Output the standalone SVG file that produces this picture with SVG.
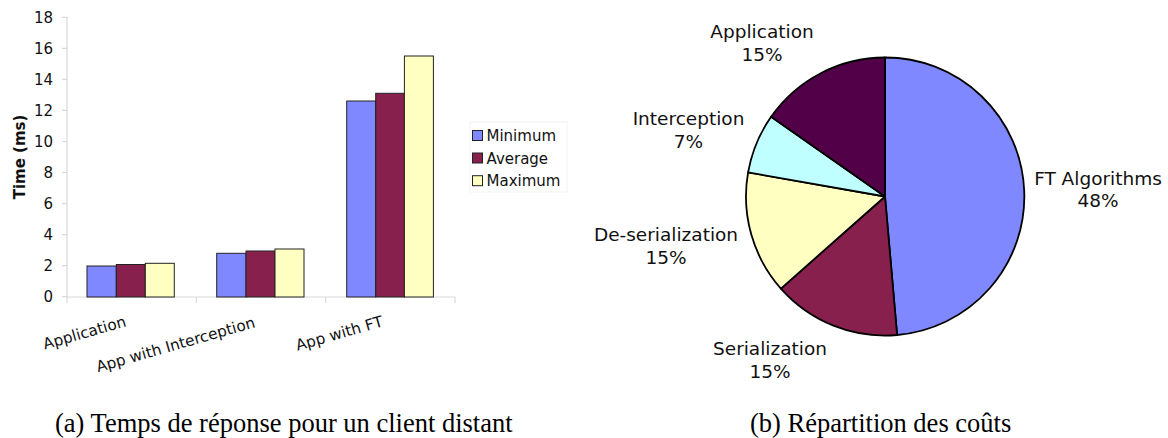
<svg xmlns="http://www.w3.org/2000/svg" width="1168" height="438" viewBox="0 0 1168 438">
<style>
.t{font-family:"DejaVu Sans",Verdana,sans-serif;fill:#111}
.tick{font-size:15px;text-anchor:end}
.xl{font-size:15.3px;text-anchor:end}
.lg{font-size:15px}
.pl{font-size:18.5px;text-anchor:middle}
.cap{font-family:"Liberation Serif","Times New Roman",serif;font-size:26.5px;fill:#000}
.ax{stroke:#d9d9d9;stroke-width:1.2;fill:none}
.bar{stroke:#222;stroke-width:1}
.mn{fill:#8088ff}
.av{fill:#88204e}
.mx{fill:#ffffc2}
.sl{stroke:#000;stroke-width:1.8;stroke-linejoin:round}
</style>
<rect width="1168" height="438" fill="#fff"/>
<g id="bar-chart">
<g id="axes">
<path class="ax" d="M67 17V297H455M62 17.3H67M62 48.3H67M62 79.4H67M62 110.4H67M62 141.5H67M62 172.5H67M62 203.6H67M62 234.6H67M62 265.7H67M62 296.7H67M67 297V303M196.3 297V303M325.7 297V303M455 297V303"/>
<text class="t" font-size="15" font-weight="bold" text-anchor="middle" transform="translate(25 157) rotate(-90)">Time (ms)</text>
<text class="t tick" x="53" y="23">18</text>
<text class="t tick" x="53" y="54">16</text>
<text class="t tick" x="53" y="85">14</text>
<text class="t tick" x="53" y="116">12</text>
<text class="t tick" x="53" y="147">10</text>
<text class="t tick" x="53" y="178">8</text>
<text class="t tick" x="53" y="209">6</text>
<text class="t tick" x="53" y="240">4</text>
<text class="t tick" x="53" y="271">2</text>
<text class="t tick" x="53" y="302">0</text>
</g>
<g id="cat-application">
<rect class="bar mn" x="87" y="266" width="29.3" height="31"/>
<rect class="bar av" x="116.3" y="264.5" width="29" height="32.5"/>
<rect class="bar mx" x="145.3" y="263.3" width="29" height="33.7"/>
<text class="t xl" transform="translate(127 326) rotate(-16)">Application</text>
</g>
<g id="cat-interception">
<rect class="bar mn" x="216.7" y="253.3" width="29.3" height="43.7"/>
<rect class="bar av" x="246" y="251" width="29" height="46"/>
<rect class="bar mx" x="275" y="249" width="29" height="48"/>
<text class="t xl" transform="translate(256 327) rotate(-16)">App with Interception</text>
</g>
<g id="cat-ft">
<rect class="bar mn" x="346.7" y="101" width="29" height="196"/>
<rect class="bar av" x="375.7" y="93.3" width="28.7" height="203.7"/>
<rect class="bar mx" x="404.4" y="56" width="29" height="241"/>
<text class="t xl" transform="translate(384 326) rotate(-16)">App with FT</text>
</g>
<g id="legend">
<rect x="470" y="122" width="97" height="70" fill="#fff" stroke="#f2f2f2"/>
<rect class="bar mn" x="472.5" y="130.5" width="10" height="10"/>
<rect class="bar av" x="472.5" y="153" width="10" height="10"/>
<rect class="bar mx" x="472.5" y="175.7" width="10" height="10"/>
<text class="t lg" x="486.5" y="141">Minimum</text>
<text class="t lg" x="486.5" y="163.5">Average</text>
<text class="t lg" x="486.5" y="186">Maximum</text>
</g>
</g>
<g id="pie-chart">
<g id="slice-ft">
<path class="sl" fill="#8088ff" d="M885 196.5V57.5A139 139 0 0 1 897.1 335Z"/>
<text class="t pl" x="1098" y="184.5">FT Algorithms</text>
<text class="t pl" x="1098" y="207">48%</text>
</g>
<g id="slice-serialization">
<path class="sl" fill="#88204e" d="M885 196.5L897.1 335A139 139 0 0 1 780.9 288.6Z"/>
<text class="t pl" x="770" y="355">Serialization</text>
<text class="t pl" x="770" y="377.5">15%</text>
</g>
<g id="slice-deserialization">
<path class="sl" fill="#ffffc2" d="M885 196.5L780.9 288.6A139 139 0 0 1 748.1 172.4Z"/>
<text class="t pl" x="666" y="241">De-serialization</text>
<text class="t pl" x="666" y="263.5">15%</text>
</g>
<g id="slice-interception">
<path class="sl" fill="#c0ffff" d="M885 196.5L748.1 172.4A139 139 0 0 1 771.1 116.8Z"/>
<text class="t pl" x="688.5" y="125">Interception</text>
<text class="t pl" x="688.5" y="148">7%</text>
</g>
<g id="slice-application">
<path class="sl" fill="#520048" d="M885 196.5L771.1 116.8A139 139 0 0 1 885 57.5Z"/>
<text class="t pl" x="762" y="37.5">Application</text>
<text class="t pl" x="762" y="60.5">15%</text>
</g>
</g>
<g id="captions">
<text class="cap" x="55" y="432">(a) Temps de réponse pour un client distant</text>
<text class="cap" x="750" y="432">(b) Répartition des coûts</text>
</g>
</svg>
